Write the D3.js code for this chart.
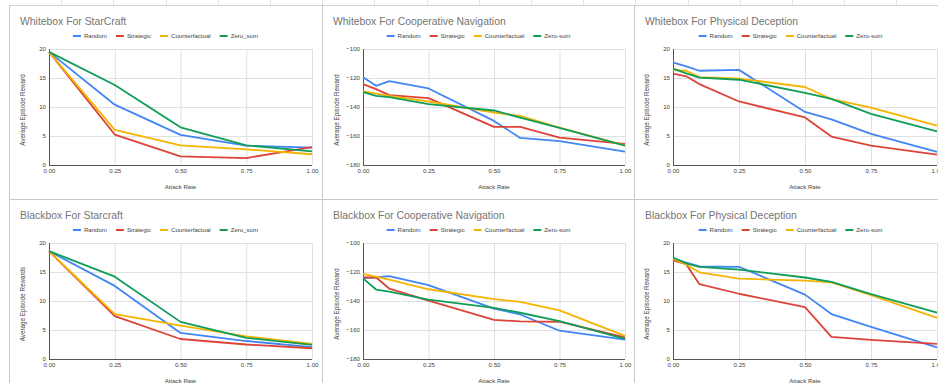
<!DOCTYPE html>
<html>
<head>
<meta charset="utf-8">
<script src="https://cdn.jsdelivr.net/npm/d3@7"></script>
<style>
  html, body { margin: 0; padding: 0; background: #fff; }
  svg { display: block; }
  text { font-family: "Liberation Sans", Arial, sans-serif; }
</style>
</head>
<body>
<svg id="chart" width="938" height="383"></svg>
<script>
// ---------------- DATA ----------------
const xStar = [0, 0.25, 0.5, 0.75, 1.0];
const xMpe = [0, 0.05, 0.1, 0.25, 0.5, 0.6, 0.75, 1.0];
const xTicks = [0, 0.25, 0.5, 0.75, 1.0];
const yTicksReward = [0, 5, 10, 15, 20];
const yTicksNav = [-180, -160, -140, -120, -100];

const seriesNamesStar = ["Random", "Strategic", "Counterfactual", "Zero_sum"];
const seriesNamesMpe = ["Random", "Strategic", "Counterfactual", "Zero-sum"];

const titles = [
  "Whitebox For StarCraft",
  "Whitebox For Cooperative Navigation",
  "Whitebox For Physical Deception",
  "Blackbox For Starcraft",
  "Blackbox For Cooperative Navigation",
  "Blackbox For Physical Deception"
];
const yTitles = [
  "Average Episode Reward", "Average Episode Reward", "Average Episode Reward",
  "Average Episode Rewards", "Average Episode Reward", "Average Episode Reward"
];
const xTitle = "Attack Rate";

// Whitebox StarCraft
const wbStarRandom = [19.5, 10.4, 5.2, 3.35, 3.0];
const wbStarStrategic = [19.5, 5.25, 1.5, 1.2, 3.1];
const wbStarCounter = [19.5, 6.05, 3.4, 2.7, 1.85];
const wbStarZero = [19.5, 13.8, 6.5, 3.4, 2.35];

// Whitebox Cooperative Navigation
const wbNavRandom = [-119.4, -125.4, -122.1, -127.2, -149.6, -161.3, -163.6, -170.8];
const wbNavStrategic = [-124.2, -127.7, -131.8, -133.9, -153.7, -153.7, -161.1, -165.5];
const wbNavCounter = [-129.0, -130.7, -132.3, -136.2, -143.8, -146.1, -154.2, -166.4];
const wbNavZero = [-129.7, -132.3, -133.2, -138.0, -142.4, -147.3, -154.4, -166.6];

// Whitebox Physical Deception
const wbPhysRandom = [17.7, 17.0, 16.25, 16.4, 9.15, 7.85, 5.35, 2.25];
const wbPhysStrategic = [15.75, 15.3, 13.95, 10.95, 8.2, 4.9, 3.35, 1.8];
const wbPhysCounter = [16.4, 16.25, 15.15, 14.9, 13.45, 11.35, 9.9, 6.8];
const wbPhysZero = [16.6, 15.8, 15.05, 14.7, 12.45, 11.4, 8.8, 5.8];

// Blackbox StarCraft
const bbStarRandom = [18.6, 12.6, 4.5, 3.1, 2.05];
const bbStarStrategic = [18.6, 7.4, 3.45, 2.5, 1.85];
const bbStarCounter = [18.6, 7.75, 5.75, 3.9, 2.6];
const bbStarZero = [18.6, 14.2, 6.4, 3.65, 2.45];

// Blackbox Cooperative Navigation
const bbNavRandom = [-124.1, -123.8, -122.9, -129.1, -145.2, -149.3, -160.5, -166.7];
const bbNavStrategic = [-123.8, -123.8, -131.4, -139.7, -153.0, -154.1, -154.3, -165.1];
const bbNavCounter = [-121.3, -123.2, -125.2, -131.9, -138.7, -140.6, -146.5, -164.0];
const bbNavZero = [-124.4, -132.1, -133.5, -139.0, -144.7, -148.1, -153.9, -166.2];

// Blackbox Physical Deception
const bbPhysRandom = [17.3, 16.6, 15.95, 15.9, 11.1, 7.75, 5.55, 2.0];
const bbPhysStrategic = [17.0, 16.35, 12.9, 11.25, 8.95, 3.8, 3.3, 2.6];
const bbPhysCounter = [17.3, 16.3, 14.95, 13.85, 13.5, 13.2, 11.0, 7.1];
const bbPhysZero = [17.5, 16.5, 15.9, 15.4, 14.05, 13.3, 11.2, 8.0];

// ---------------- CHART ----------------
const colors = ["#4285F4", "#DB4437", "#F4B400", "#0F9D58"];

const panels = [
  { x: xStar, yt: yTicksReward, names: seriesNamesStar, s: [wbStarRandom, wbStarStrategic, wbStarCounter, wbStarZero] },
  { x: xMpe, yt: yTicksNav, names: seriesNamesMpe, s: [wbNavRandom, wbNavStrategic, wbNavCounter, wbNavZero] },
  { x: xMpe, yt: yTicksReward, names: seriesNamesMpe, s: [wbPhysRandom, wbPhysStrategic, wbPhysCounter, wbPhysZero] },
  { x: xStar, yt: yTicksReward, names: seriesNamesStar, s: [bbStarRandom, bbStarStrategic, bbStarCounter, bbStarZero] },
  { x: xMpe, yt: yTicksNav, names: seriesNamesMpe, s: [bbNavRandom, bbNavStrategic, bbNavCounter, bbNavZero] },
  { x: xMpe, yt: yTicksReward, names: seriesNamesMpe, s: [bbPhysRandom, bbPhysStrategic, bbPhysCounter, bbPhysZero] }
];

const svg = d3.select("#chart");
const W = 938, H = 383;

// Layout
const colLeft = [9, 322, 634];
const panelW = 313;
const plotX = [[49, 312], [363, 625], [673, 937]];
const plotY = [[49, 165], [243, 359]];
const titleY = [25, 219];
const legendY = [36, 230];

// spreadsheet background lines
const bg = svg.append("g");
bg.append("line").attr("x1", 9).attr("x2", W).attr("y1", 5.5).attr("y2", 5.5)
  .attr("stroke", "#d4d4d4").attr("stroke-width", 1);
for (let cx = 9 + 52.2; cx < W; cx += 52.2) {
  bg.append("line").attr("x1", Math.round(cx) + 0.5).attr("x2", Math.round(cx) + 0.5)
    .attr("y1", 0).attr("y2", 5).attr("stroke", "#e6e6e6");
}
colLeft.forEach(cx => {
  bg.append("line").attr("x1", cx + 0.5).attr("x2", cx + 0.5).attr("y1", 5).attr("y2", H)
    .attr("stroke", "#c8c8c8").attr("stroke-width", 1);
});
bg.append("line").attr("x1", 9).attr("x2", W).attr("y1", 199.5).attr("y2", 199.5)
  .attr("stroke", "#c8c8c8").attr("stroke-width", 1);

panels.forEach((p, i) => {
  const col = i % 3, row = Math.floor(i / 3);
  const [x0, x1] = plotX[col];
  const [y0, y1] = plotY[row];
  const g = svg.append("g");

  const xs = d3.scaleLinear().domain([0, 1]).range([x0, x1]);
  const ys = d3.scaleLinear().domain(d3.extent(p.yt)).range([y1, y0]);

  // title
  g.append("text").attr("x", colLeft[col] + 11).attr("y", titleY[row])
    .attr("font-size", 10.4).attr("fill", "#757575").text(titles[i]);

  // legend
  const leg = g.append("g");
  const fs = 6.1;
  let cursor = 0;
  const items = [];
  p.names.forEach((n, k) => {
    const it = leg.append("g");
    it.append("line").attr("x1", 0).attr("x2", 8).attr("y1", 0).attr("y2", 0)
      .attr("stroke", colors[k]).attr("stroke-width", 2);
    const t = it.append("text").attr("x", 11).attr("y", 0).attr("dy", "0.35em")
      .attr("font-size", fs).attr("fill", "#444").text(n);
    const tw = t.node().getComputedTextLength();
    items.push({ it, off: cursor });
    cursor += 11 + tw + 9;
  });
  const totalW = cursor - 9;
  const lx = colLeft[col] + panelW / 2 - totalW / 2;
  items.forEach(d => d.it.attr("transform", `translate(${lx + d.off},${legendY[row]})`));

  // gridlines + labels via axes
  const yAxis = d3.axisLeft(ys).tickValues(p.yt).tickSizeInner(-(x1 - x0)).tickSizeOuter(0).tickPadding(3)
    .tickFormat(d3.format("d"));
  const ya = g.append("g").attr("transform", `translate(${x0},0)`).call(yAxis);
  ya.select(".domain").remove();
  ya.selectAll(".tick line").attr("stroke", "#e0e0e0");
  ya.selectAll(".tick text").attr("font-size", 6.1).attr("fill", "#444")
    .attr("font-family", '"Liberation Sans", Arial, sans-serif');

  const xAxis = d3.axisBottom(xs).tickValues(xTicks).tickSizeInner(-(y1 - y0)).tickSizeOuter(0).tickPadding(4)
    .tickFormat(d3.format(".2f"));
  const xa = g.append("g").attr("transform", `translate(0,${y1})`).call(xAxis);
  xa.select(".domain").remove();
  xa.selectAll(".tick line").attr("stroke", "#e0e0e0");
  xa.selectAll(".tick text").attr("font-size", 6.1).attr("fill", "#444")
    .attr("font-family", '"Liberation Sans", Arial, sans-serif');

  // axis baselines
  g.append("line").attr("x1", x0 + 0.5).attr("x2", x0 + 0.5).attr("y1", y0).attr("y2", y1)
    .attr("stroke", "#555").attr("stroke-width", 1);
  g.append("line").attr("x1", x0).attr("x2", x1).attr("y1", y1 + 0.5).attr("y2", y1 + 0.5)
    .attr("stroke", "#555").attr("stroke-width", 1);

  // series
  const line = d3.line().x(d => xs(d[0])).y(d => ys(d[1]));
  p.s.forEach((vals, k) => {
    const pts = vals.map((v, j) => [p.x[j], v]);
    g.append("path").datum(pts).attr("d", line)
      .attr("fill", "none").attr("stroke", colors[k]).attr("stroke-width", 1.8)
      .attr("stroke-linejoin", "round");
  });

  // axis titles
  g.append("text").attr("x", (x0 + x1) / 2).attr("y", y1 + 24)
    .attr("text-anchor", "middle").attr("font-size", 6.1).attr("fill", "#444").text(xTitle);
  g.append("text")
    .attr("transform", `translate(${x0 - 26},${(y0 + y1) / 2 + 3}) rotate(-90)`)
    .attr("text-anchor", "middle").attr("dy", "0.35em")
    .attr("font-size", 6.3).attr("fill", "#444").text(yTitles[i]);
});
</script>
</body>
</html>
